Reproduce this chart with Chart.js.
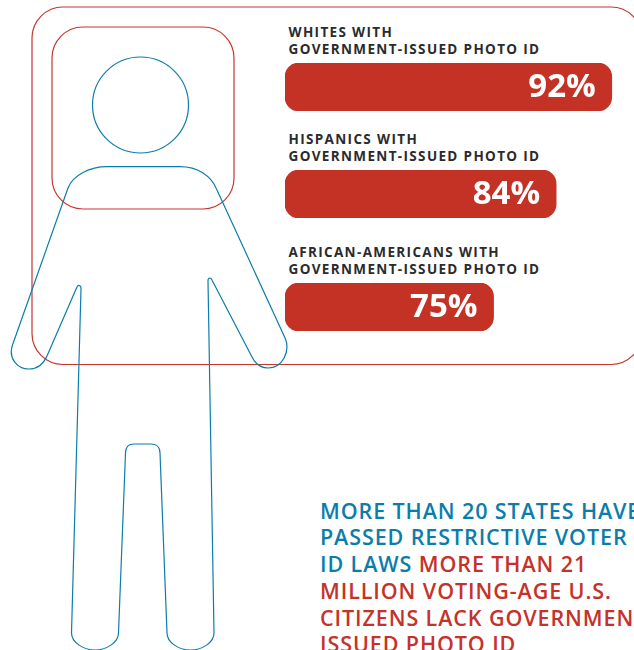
<!DOCTYPE html>
<html>
<head>
<meta charset="utf-8">
<title>Government-issued photo ID</title>
<script src="https://cdn.jsdelivr.net/npm/chart.js@4"></script>
<style>
    html, body { margin: 0; padding: 0; background: #fff; }
    #page { position: relative; width: 634px; height: 650px; overflow: hidden; font-family: "Open Sans", sans-serif; }
    #figure { position: absolute; left: 0; top: 0; }
    .stat { position: absolute; left: 285px; width: 349px; }
    .stat h3 { margin: 0 0 5px 3.5px; font-size: 13.5px; line-height: 17px; height: 34px; font-weight: 700; letter-spacing: 1.35px; color: #2b2b2d; white-space: nowrap; }
    .stat canvas { display: block; }
    #note { position: absolute; left: 320px; top: 497.5px; font-size: 21.5px; line-height: 26.8px; font-weight: 600; letter-spacing: 0.9px; white-space: nowrap; color: #0b7dab; }
    #note span { color: #c5322a; }
</style>
</head>
<body>
<div id="page">
    <svg id="figure" width="634" height="650" fill="none" stroke-width="1.2">
        <!-- id card -->
        <rect x="32" y="7" width="610" height="357.5" rx="31" stroke="#c8352d"/>
        <rect x="52" y="27" width="182" height="182" rx="31" stroke="#c8352d"/>
        <!-- person -->
        <circle cx="140.5" cy="105" r="48" stroke="#0b7dab"/>
        <path stroke="#0b7dab" d="M107 166.7 H180 C197 166.7 211 175 217 190 L285.5 339 C290 351 283 368 268 368 C260 368 255 363 252 357
            L212.5 281 C211 277 208 277 208 281 L214 633 C214 642 203 650 190.5 650 C178 650 167 642 167 633
            L160 453 C160 447 156 444 151 444 H134 C129 444 125.500 447 125.500 453 L118.500 633 C118.500 642 107 650 95 650 C83 650 71.500 642 71.500 633
            L81 289 C81 285 78 284 76.500 288 L47 356 C43 365 36 369 29 369 C17 369 8 358 12.500 345 L68 188 C73 175 90 166.700 107 166.700 Z"/>
    </svg>

    <div class="stat" style="top:24px"><h3>WHITES WITH<br>GOVERNMENT-ISSUED PHOTO ID</h3><canvas id="whites-chart" width="349" height="48"></canvas></div>
    <div class="stat" style="top:131px"><h3>HISPANICS WITH<br>GOVERNMENT-ISSUED PHOTO ID</h3><canvas id="hispanics-chart" width="349" height="48"></canvas></div>
    <div class="stat" style="top:244px"><h3>AFRICAN-AMERICANS WITH<br>GOVERNMENT-ISSUED PHOTO ID</h3><canvas id="african-americans-chart" width="349" height="48"></canvas></div>

    <div id="note">MORE THAN 20 STATES HAVE<br>PASSED RESTRICTIVE VOTER<br>ID LAWS <span>MORE THAN 21<br>MILLION VOTING-AGE U.S.<br>CITIZENS LACK GOVERNMENT-<br>ISSUED PHOTO ID</span></div>
</div>

<script>
const groups = ['Whites', 'Hispanics', 'African-Americans'];
const canvasIds = ['whites-chart', 'hispanics-chart', 'african-americans-chart'];
const photoIdShare = [92, 84, 75];

// bars start at a cut-off baseline, same range on all three so lengths compare
const axisMin = 45;
const axisMax = 95.2;

// prints the percentage inside the end of the bar
const valueLabel = {
    id: 'valueLabel',
    afterDatasetsDraw(chart) {
        const { ctx } = chart;
        const bar = chart.getDatasetMeta(0).data[0];
        ctx.save();
        ctx.font = '700 33px "Open Sans", sans-serif';
        ctx.fillStyle = '#ffffff';
        ctx.textAlign = 'right';
        ctx.textBaseline = 'middle';
        ctx.fillText(chart.data.datasets[0].data[0] + '%', bar.x - 16, bar.y + 1);
        ctx.restore();
    }
};

groups.forEach((group, i) => {
    new Chart(document.getElementById(canvasIds[i]).getContext('2d'), {
        type: 'bar',
        data: {
            labels: [group],
            datasets: [{
                label: 'With government-issued photo ID',
                data: [photoIdShare[i]],
                base: axisMin,
                backgroundColor: '#c43125',
                borderRadius: 14,
                borderSkipped: false,
                barPercentage: 1,
                categoryPercentage: 1
            }]
        },
        options: {
            indexAxis: 'y',
            responsive: false,
            animation: false,
            layout: { padding: 0 },
            plugins: { legend: { display: false }, tooltip: { enabled: false } },
            scales: {
                x: { display: false, min: axisMin, max: axisMax },
                y: { display: false }
            }
        },
        plugins: [valueLabel]
    });
});
</script>
</body>
</html>
